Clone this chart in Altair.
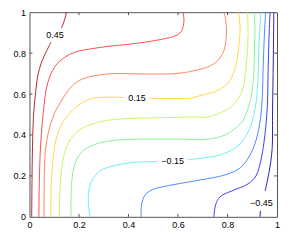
import altair as alt
import pandas as pd

# contour levels (top-left positive, right side negative)
levels = ["0.45", "0.35", "0.25", "0.15", "0.05", "-0.05", "-0.15", "-0.25", "-0.35", "-0.45"]
colors = ["#a01818", "#ff3a3a", "#ff7a50", "#ffd232", "#c4f450", "#7cf08c",
          "#5ceef0", "#3a7cff", "#2a2aff", "#0a0ab8"]

# contour polylines (data coordinates)
c045a_x = [0.149, 0.145, 0.137, 0.129]
c045a_y = [1.0, 0.976, 0.946, 0.922]
c045b_x = [0.087, 0.067, 0.049, 0.034, 0.026, 0.018, 0.014, 0.011, 0.009]
c045b_y = [0.854, 0.805, 0.756, 0.693, 0.620, 0.522, 0.424, 0.254, 0.0]

c035_x = [0.620, 0.624, 0.616, 0.596, 0.527, 0.406, 0.325, 0.244, 0.184, 0.143, 0.107,
          0.083, 0.067, 0.059, 0.051, 0.044, 0.040, 0.038]
c035_y = [1.0, 0.961, 0.912, 0.888, 0.866, 0.844, 0.834, 0.820, 0.805, 0.780, 0.741,
          0.688, 0.620, 0.546, 0.449, 0.327, 0.180, 0.0]

c025_x = [0.786, 0.794, 0.796, 0.786, 0.762, 0.729, 0.669, 0.588, 0.467, 0.345, 0.265,
          0.204, 0.164, 0.131, 0.103, 0.083, 0.067, 0.061, 0.059]
c025_y = [1.0, 0.951, 0.898, 0.815, 0.766, 0.737, 0.715, 0.700, 0.698, 0.700, 0.690,
          0.668, 0.629, 0.571, 0.512, 0.444, 0.351, 0.254, 0.0]

c015a_x = [0.086, 0.088, 0.095, 0.107, 0.131, 0.164, 0.204, 0.253, 0.325, 0.386]
c015a_y = [0.0, 0.156, 0.278, 0.376, 0.454, 0.507, 0.551, 0.578, 0.585, 0.583]
c015b_x = [0.483, 0.568, 0.649, 0.709, 0.749, 0.802, 0.826, 0.838, 0.846, 0.851, 0.846]
c015b_y = [0.580, 0.578, 0.580, 0.599, 0.611, 0.654, 0.707, 0.766, 0.839, 0.912, 1.0]

c005_x = [0.121, 0.123, 0.129, 0.143, 0.164, 0.196, 0.244, 0.297, 0.366, 0.467, 0.568,
          0.669, 0.709, 0.749, 0.817, 0.851, 0.864, 0.878, 0.883, 0.881]
c005_y = [0.0, 0.132, 0.229, 0.317, 0.376, 0.420, 0.449, 0.468, 0.478, 0.483, 0.485,
          0.488, 0.486, 0.498, 0.538, 0.595, 0.636, 0.766, 0.888, 1.0]

cm005_x = [0.168, 0.168, 0.174, 0.188, 0.216, 0.265, 0.325, 0.406, 0.487, 0.608, 0.709,
           0.790, 0.838, 0.864, 0.887, 0.898, 0.907, 0.909, 0.911, 0.908]
cm005_y = [0.0, 0.107, 0.205, 0.273, 0.322, 0.354, 0.371, 0.378, 0.380, 0.380, 0.378,
           0.400, 0.439, 0.473, 0.546, 0.605, 0.717, 0.815, 0.912, 1.0]

cm015a_x = [0.244, 0.238, 0.240, 0.253, 0.285, 0.345, 0.426, 0.515]
cm015a_y = [0.0, 0.068, 0.132, 0.180, 0.224, 0.251, 0.266, 0.270]
cm015b_x = [0.636, 0.689, 0.762, 0.810, 0.851, 0.879, 0.895, 0.915, 0.923, 0.925, 0.929, 0.934]
cm015b_y = [0.278, 0.286, 0.300, 0.322, 0.356, 0.405, 0.449, 0.556, 0.668, 0.766, 0.888, 1.0]

cm025_x = [0.451, 0.453, 0.467, 0.495, 0.547, 0.689, 0.790, 0.851, 0.891, 0.919, 0.937,
           0.945, 0.949, 0.954]
cm025_y = [0.0, 0.059, 0.107, 0.132, 0.149, 0.180, 0.205, 0.239, 0.302, 0.390, 0.522,
           0.766, 0.888, 1.0]

cm035_x = [0.745, 0.752, 0.770, 0.818, 0.883, 0.915, 0.935, 0.947, 0.960, 0.965, 0.968, 0.972]
cm035_y = [0.0, 0.059, 0.098, 0.127, 0.161, 0.200, 0.278, 0.361, 0.522, 0.766, 0.888, 1.0]

cm045a_x = [0.987, 0.985, 0.982, 0.980, 0.968, 0.952]
cm045a_y = [1.0, 0.766, 0.522, 0.327, 0.220, 0.127]
cm045b_x = [0.933, 0.931]
cm045b_y = [0.029, 0.0]

segments = [
    ("0.45", c045a_x, c045a_y), ("0.45", c045b_x, c045b_y),
    ("0.35", c035_x, c035_y), ("0.25", c025_x, c025_y),
    ("0.15", c015a_x, c015a_y), ("0.15", c015b_x, c015b_y),
    ("0.05", c005_x, c005_y), ("-0.05", cm005_x, cm005_y),
    ("-0.15", cm015a_x, cm015a_y), ("-0.15", cm015b_x, cm015b_y),
    ("-0.25", cm025_x, cm025_y), ("-0.35", cm035_x, cm035_y),
    ("-0.45", cm045a_x, cm045a_y), ("-0.45", cm045b_x, cm045b_y),
]

# inline contour labels
label_text = ["0.45", "0.15", "\u22120.15", "\u22120.45"]
label_x = [0.103, 0.434, 0.578, 0.937]
label_y = [0.888, 0.583, 0.271, 0.068]

tick_vals = [0, 0.2, 0.4, 0.6, 0.8, 1]
inner_ticks = [0.2, 0.4, 0.6, 0.8]

rows = []
for si, (lev, xs, ys) in enumerate(segments):
    for k, (a, b) in enumerate(zip(xs, ys)):
        rows.append({"level": lev, "seg": si, "ord": k, "x": a, "y": b})
df = pd.DataFrame(rows)

W, H = 248, 205
FONT = "Liberation Sans"

xscale = alt.Scale(domain=[0, 1], nice=False, zero=False)
yscale = alt.Scale(domain=[0, 1], nice=False, zero=False)

xaxis = alt.Axis(values=tick_vals, format="~g", domain=False, ticks=False, grid=False,
                 labelPadding=4, labelFont=FONT, labelFontSize=9, labelColor="black",
                 title=None, labelFlush=False)
yaxis = alt.Axis(values=tick_vals, format="~g", domain=False, ticks=False, grid=False,
                 labelPadding=4, labelFont=FONT, labelFontSize=9, labelColor="black",
                 title=None, labelFlush=False)

lines = alt.Chart(df).mark_line(strokeWidth=0.9, interpolate="catmull-rom").encode(
    x=alt.X("x:Q", scale=xscale, axis=xaxis),
    y=alt.Y("y:Q", scale=yscale, axis=yaxis),
    color=alt.Color("level:N", scale=alt.Scale(domain=levels, range=colors), legend=None),
    detail="seg:N",
    order="ord:Q",
)

lab_df = pd.DataFrame({"t": label_text, "x": label_x, "y": label_y})
labels = alt.Chart(lab_df).mark_text(font=FONT, fontSize=9, color="black").encode(
    x=alt.X("x:Q", scale=xscale), y=alt.Y("y:Q", scale=yscale), text="t:N"
)

tdf = pd.DataFrame({"t": inner_ticks})
tick_color = "#555"
bt = alt.Chart(tdf).mark_rule(color=tick_color, strokeWidth=1).encode(
    x=alt.X("t:Q", scale=xscale), y=alt.value(H), y2=alt.value(H - 3))
tt = alt.Chart(tdf).mark_rule(color=tick_color, strokeWidth=1).encode(
    x=alt.X("t:Q", scale=xscale), y=alt.value(0), y2=alt.value(3))
lt = alt.Chart(tdf).mark_rule(color=tick_color, strokeWidth=1).encode(
    y=alt.Y("t:Q", scale=yscale), x=alt.value(0), x2=alt.value(3))
rt = alt.Chart(tdf).mark_rule(color=tick_color, strokeWidth=1).encode(
    y=alt.Y("t:Q", scale=yscale), x=alt.value(W), x2=alt.value(W - 3))

chart = alt.layer(lines, labels, bt, tt, lt, rt).properties(
    width=W, height=H,
    autosize=alt.AutoSizeParams(type="none"),
    padding={"left": 21.5, "top": 4, "right": 6, "bottom": 20},
    background="white",
).configure_view(stroke="#555", strokeWidth=1)

chart.save("out.html", embed_options={"renderer": "svg", "actions": False})
